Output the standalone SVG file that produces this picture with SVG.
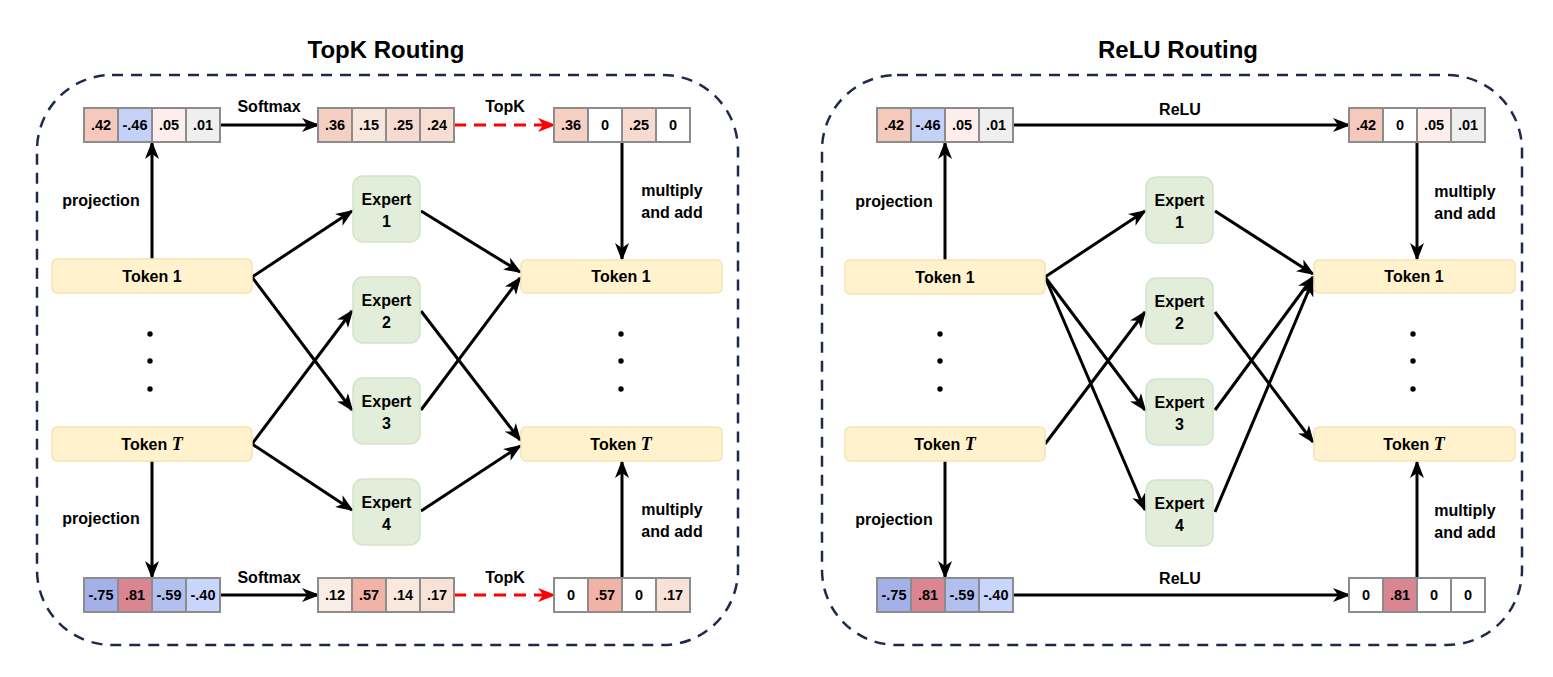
<svg xmlns="http://www.w3.org/2000/svg" width="1553" height="677" viewBox="0 0 1553 677">
<defs>
<style>
text{font-family:"Liberation Sans",Arial,sans-serif;font-weight:bold;fill:#000;}
.title{font-size:24px;text-anchor:middle;}
.lbl{font-size:16px;text-anchor:middle;}
.cell{font-size:14.5px;text-anchor:middle;}
.panel{fill:none;stroke:#1d2b4a;stroke-width:2.5;stroke-dasharray:11 8;}
.tok{fill:#fff2cc;stroke:#f3e3b5;stroke-width:1.5;}
.exp{fill:#e2eeda;stroke:#d3e2cb;stroke-width:1.5;}
.c{stroke:#8c8c8c;stroke-width:2;}
.e{fill:none;stroke:#000;stroke-width:3;marker-end:url(#ah);}
.r{fill:none;stroke:#ff0000;stroke-width:3;stroke-dasharray:12 8;marker-end:url(#ahr);}
.it{font-family:"Liberation Serif","Times New Roman",serif;font-style:italic;font-size:18px;}
</style>
<marker id="ah" markerUnits="userSpaceOnUse" markerWidth="18" markerHeight="14" viewBox="0 0 18 14" refX="16" refY="7" orient="auto">
<path d="M0,0 L18,7 L0,14 L5,7 z" fill="#000"/>
</marker>
<marker id="ahr" markerUnits="userSpaceOnUse" markerWidth="18" markerHeight="14" viewBox="0 0 18 14" refX="16" refY="7" orient="auto">
<path d="M0,0 L18,7 L0,14 L5,7 z" fill="#ff0000"/>
</marker>
</defs>
<rect width="1553" height="677" fill="#fff"/>

<text class="title" x="386" y="58">TopK Routing</text>
<text class="title" x="1178" y="58">ReLU Routing</text>

<g id="panel-left"><rect class="panel" x="37" y="75" width="701" height="570" rx="75" ry="75"/></g>
<g id="panel-right"><rect class="panel" x="822" y="75" width="700" height="570" rx="75" ry="75"/></g>

<g id="connectors">
<line class="e" x1="220" y1="125" x2="318" y2="125"/>
<line class="r" x1="454" y1="125" x2="554" y2="125"/>
<line class="e" x1="220" y1="595" x2="318" y2="595"/>
<line class="r" x1="454" y1="595" x2="554" y2="595"/>
<line class="e" x1="152" y1="259" x2="152" y2="143"/>
<line class="e" x1="152" y1="461" x2="152" y2="577"/>
<line class="e" x1="622" y1="142" x2="622" y2="259"/>
<line class="e" x1="622" y1="578" x2="622" y2="462"/>
<line class="e" x1="252" y1="277" x2="352" y2="211"/>
<line class="e" x1="252" y1="277" x2="352" y2="410"/>
<line class="e" x1="252" y1="444" x2="352" y2="311"/>
<line class="e" x1="252" y1="444" x2="352" y2="510"/>
<line class="e" x1="421" y1="211" x2="520" y2="272"/>
<line class="e" x1="421" y1="410" x2="520" y2="278"/>
<line class="e" x1="421" y1="311" x2="520" y2="440"/>
<line class="e" x1="421" y1="511" x2="520" y2="446"/>
<line class="e" x1="1013" y1="125" x2="1349" y2="125"/>
<line class="e" x1="1013" y1="595" x2="1349" y2="595"/>
<line class="e" x1="945" y1="260" x2="945" y2="143"/>
<line class="e" x1="945" y1="461" x2="945" y2="577"/>
<line class="e" x1="1417" y1="142" x2="1417" y2="259"/>
<line class="e" x1="1417" y1="578" x2="1417" y2="462"/>
<line class="e" x1="1045" y1="277" x2="1145" y2="211"/>
<line class="e" x1="1045" y1="277" x2="1145" y2="410"/>
<line class="e" x1="1045" y1="277" x2="1145" y2="510"/>
<line class="e" x1="1045" y1="444" x2="1145" y2="312"/>
<line class="e" x1="1215" y1="211" x2="1313" y2="274"/>
<line class="e" x1="1215" y1="410" x2="1313" y2="277"/>
<line class="e" x1="1215" y1="512" x2="1313" y2="280"/>
<line class="e" x1="1215" y1="312" x2="1313" y2="442"/>
</g>

<g id="edge-labels">
<text class="lbl" x="269" y="112">Softmax</text>
<text class="lbl" x="505" y="112">TopK</text>
<text class="lbl" x="269" y="583">Softmax</text>
<text class="lbl" x="505" y="583">TopK</text>
<text class="lbl" x="101" y="206">projection</text>
<text class="lbl" x="101" y="524">projection</text>
<text class="lbl" x="672" y="196">multiply</text>
<text class="lbl" x="672" y="218">and add</text>
<text class="lbl" x="672" y="515">multiply</text>
<text class="lbl" x="672" y="537">and add</text>
<text class="lbl" x="1180" y="115">ReLU</text>
<text class="lbl" x="1180" y="584">ReLU</text>
<text class="lbl" x="894" y="207">projection</text>
<text class="lbl" x="894" y="525">projection</text>
<text class="lbl" x="1465" y="197">multiply</text>
<text class="lbl" x="1465" y="219">and add</text>
<text class="lbl" x="1465" y="516">multiply</text>
<text class="lbl" x="1465" y="538">and add</text>
</g>

<g id="L-token1-in"><rect class="tok" x="52" y="259" width="200" height="34" rx="5"/><text class="lbl" x="152" y="282">Token 1</text></g>
<g id="L-tokenT-in"><rect class="tok" x="52" y="427" width="200" height="34" rx="5"/><text class="lbl" x="152" y="450">Token <tspan class="it">T</tspan></text></g>
<g id="L-token1-out"><rect class="tok" x="521" y="260" width="201" height="33" rx="5"/><text class="lbl" x="621" y="282">Token 1</text></g>
<g id="L-tokenT-out"><rect class="tok" x="521" y="427" width="201" height="34" rx="5"/><text class="lbl" x="621" y="450">Token <tspan class="it">T</tspan></text></g>
<g id="L-dots-in"><circle cx="150" cy="334" r="2.7"/><circle cx="150" cy="361" r="2.7"/><circle cx="150" cy="389" r="2.7"/></g>
<g id="L-dots-out"><circle cx="621" cy="334" r="2.7"/><circle cx="621" cy="361" r="2.7"/><circle cx="621" cy="389" r="2.7"/></g>
<g id="L-expert1"><rect class="exp" x="353" y="176" width="67" height="66" rx="10"/><text class="lbl" x="386.5" y="205">Expert</text><text class="lbl" x="386.5" y="227">1</text></g>
<g id="L-expert2"><rect class="exp" x="353" y="277" width="67" height="66" rx="10"/><text class="lbl" x="386.5" y="306">Expert</text><text class="lbl" x="386.5" y="328">2</text></g>
<g id="L-expert3"><rect class="exp" x="353" y="378" width="67" height="66" rx="10"/><text class="lbl" x="386.5" y="407">Expert</text><text class="lbl" x="386.5" y="429">3</text></g>
<g id="L-expert4"><rect class="exp" x="353" y="479" width="67" height="66" rx="10"/><text class="lbl" x="386.5" y="508">Expert</text><text class="lbl" x="386.5" y="530">4</text></g>

<g id="L-logits1">
<rect class="c" x="84" y="108" width="34" height="34" fill="#f5cabc"/>
<rect class="c" x="118" y="108" width="34" height="34" fill="#c5d2f7"/>
<rect class="c" x="152" y="108" width="34" height="34" fill="#fdeeec"/>
<rect class="c" x="186" y="108" width="34" height="34" fill="#efefef"/>
<text class="cell" x="101" y="130">.42</text><text class="cell" x="135" y="130">-.46</text><text class="cell" x="169" y="130">.05</text><text class="cell" x="203" y="130">.01</text>
</g>
<g id="L-softmax1">
<rect class="c" x="318" y="108" width="34" height="34" fill="#f5cfc2"/>
<rect class="c" x="352" y="108" width="34" height="34" fill="#f8e5dc"/>
<rect class="c" x="386" y="108" width="34" height="34" fill="#f7dbd0"/>
<rect class="c" x="420" y="108" width="34" height="34" fill="#f7ddd2"/>
<text class="cell" x="335" y="130">.36</text><text class="cell" x="369" y="130">.15</text><text class="cell" x="403" y="130">.25</text><text class="cell" x="437" y="130">.24</text>
</g>
<g id="L-topk1">
<rect class="c" x="554" y="108" width="34" height="34" fill="#f5d0c3"/>
<rect class="c" x="588" y="108" width="34" height="34" fill="#ffffff"/>
<rect class="c" x="622" y="108" width="34" height="34" fill="#f8dbd0"/>
<rect class="c" x="656" y="108" width="34" height="34" fill="#ffffff"/>
<text class="cell" x="571" y="130">.36</text><text class="cell" x="605" y="130">0</text><text class="cell" x="639" y="130">.25</text><text class="cell" x="673" y="130">0</text>
</g>
<g id="L-logitsT">
<rect class="c" x="84" y="578" width="34" height="34" fill="#a4b1e8"/>
<rect class="c" x="118" y="578" width="34" height="34" fill="#d98592"/>
<rect class="c" x="152" y="578" width="34" height="34" fill="#b2c0f0"/>
<rect class="c" x="186" y="578" width="34" height="34" fill="#c9d6fb"/>
<text class="cell" x="101" y="600">-.75</text><text class="cell" x="135" y="600">.81</text><text class="cell" x="169" y="600">-.59</text><text class="cell" x="203" y="600">-.40</text>
</g>
<g id="L-softmaxT">
<rect class="c" x="318" y="578" width="34" height="34" fill="#faede5"/>
<rect class="c" x="352" y="578" width="34" height="34" fill="#f0b3a6"/>
<rect class="c" x="386" y="578" width="34" height="34" fill="#f9e8de"/>
<rect class="c" x="420" y="578" width="34" height="34" fill="#f8e1d6"/>
<text class="cell" x="335" y="600">.12</text><text class="cell" x="369" y="600">.57</text><text class="cell" x="403" y="600">.14</text><text class="cell" x="437" y="600">.17</text>
</g>
<g id="L-topkT">
<rect class="c" x="554" y="578" width="34" height="34" fill="#ffffff"/>
<rect class="c" x="588" y="578" width="34" height="34" fill="#f0b3a6"/>
<rect class="c" x="622" y="578" width="34" height="34" fill="#ffffff"/>
<rect class="c" x="656" y="578" width="34" height="34" fill="#f8e1d6"/>
<text class="cell" x="571" y="600">0</text><text class="cell" x="605" y="600">.57</text><text class="cell" x="639" y="600">0</text><text class="cell" x="673" y="600">.17</text>
</g>

<g id="R-token1-in"><rect class="tok" x="845" y="260" width="200" height="34" rx="5"/><text class="lbl" x="945" y="283">Token 1</text></g>
<g id="R-tokenT-in"><rect class="tok" x="845" y="427" width="200" height="34" rx="5"/><text class="lbl" x="945" y="450">Token <tspan class="it">T</tspan></text></g>
<g id="R-token1-out"><rect class="tok" x="1314" y="260" width="201" height="33" rx="5"/><text class="lbl" x="1414" y="282">Token 1</text></g>
<g id="R-tokenT-out"><rect class="tok" x="1314" y="427" width="201" height="34" rx="5"/><text class="lbl" x="1414" y="450">Token <tspan class="it">T</tspan></text></g>
<g id="R-dots-in"><circle cx="940" cy="334" r="2.7"/><circle cx="940" cy="361" r="2.7"/><circle cx="940" cy="389" r="2.7"/></g>
<g id="R-dots-out"><circle cx="1413" cy="334" r="2.7"/><circle cx="1413" cy="361" r="2.7"/><circle cx="1413" cy="389" r="2.7"/></g>
<g id="R-expert1"><rect class="exp" x="1146" y="177" width="67" height="66" rx="10"/><text class="lbl" x="1179.5" y="206">Expert</text><text class="lbl" x="1179.5" y="228">1</text></g>
<g id="R-expert2"><rect class="exp" x="1146" y="278" width="67" height="66" rx="10"/><text class="lbl" x="1179.5" y="307">Expert</text><text class="lbl" x="1179.5" y="329">2</text></g>
<g id="R-expert3"><rect class="exp" x="1146" y="379" width="67" height="66" rx="10"/><text class="lbl" x="1179.5" y="408">Expert</text><text class="lbl" x="1179.5" y="430">3</text></g>
<g id="R-expert4"><rect class="exp" x="1146" y="480" width="67" height="66" rx="10"/><text class="lbl" x="1179.5" y="509">Expert</text><text class="lbl" x="1179.5" y="531">4</text></g>

<g id="R-logits1">
<rect class="c" x="877" y="108" width="34" height="34" fill="#f5cabc"/>
<rect class="c" x="911" y="108" width="34" height="34" fill="#c5d2f7"/>
<rect class="c" x="945" y="108" width="34" height="34" fill="#fdeeec"/>
<rect class="c" x="979" y="108" width="34" height="34" fill="#efefef"/>
<text class="cell" x="894" y="130">.42</text><text class="cell" x="928" y="130">-.46</text><text class="cell" x="962" y="130">.05</text><text class="cell" x="996" y="130">.01</text>
</g>
<g id="R-relu1">
<rect class="c" x="1349" y="108" width="34" height="34" fill="#f5cabc"/>
<rect class="c" x="1383" y="108" width="34" height="34" fill="#ffffff"/>
<rect class="c" x="1417" y="108" width="34" height="34" fill="#fdeeec"/>
<rect class="c" x="1451" y="108" width="34" height="34" fill="#efefef"/>
<text class="cell" x="1366" y="130">.42</text><text class="cell" x="1400" y="130">0</text><text class="cell" x="1434" y="130">.05</text><text class="cell" x="1468" y="130">.01</text>
</g>
<g id="R-logitsT">
<rect class="c" x="877" y="578" width="34" height="34" fill="#a4b1e8"/>
<rect class="c" x="911" y="578" width="34" height="34" fill="#d98592"/>
<rect class="c" x="945" y="578" width="34" height="34" fill="#b2c0f0"/>
<rect class="c" x="979" y="578" width="34" height="34" fill="#c9d6fb"/>
<text class="cell" x="894" y="600">-.75</text><text class="cell" x="928" y="600">.81</text><text class="cell" x="962" y="600">-.59</text><text class="cell" x="996" y="600">-.40</text>
</g>
<g id="R-reluT">
<rect class="c" x="1349" y="578" width="34" height="34" fill="#ffffff"/>
<rect class="c" x="1383" y="578" width="34" height="34" fill="#d98592"/>
<rect class="c" x="1417" y="578" width="34" height="34" fill="#ffffff"/>
<rect class="c" x="1451" y="578" width="34" height="34" fill="#ffffff"/>
<text class="cell" x="1366" y="600">0</text><text class="cell" x="1400" y="600">.81</text><text class="cell" x="1434" y="600">0</text><text class="cell" x="1468" y="600">0</text>
</g>
</svg>
